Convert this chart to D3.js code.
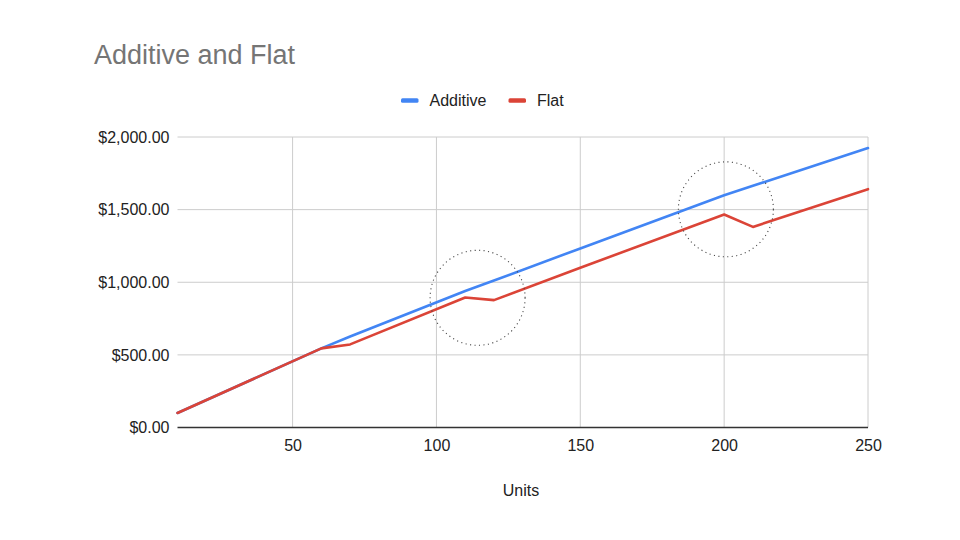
<!DOCTYPE html>
<html lang="en">
<head>
    <meta charset="UTF-8">
    <title>Additive and Flat</title>
    <style>
        body { margin: 0; background: #fff; }
        svg { font-family: Arial, "Liberation Sans", sans-serif; }
        .grid line { stroke: #cccccc; stroke-width: 1px; }
        .label { fill: #222; font-size: 16px; }
        .line { fill: none; stroke-width: 2.6px; stroke-linejoin: round; stroke-linecap: round; }
        .note { fill: none; stroke: #444; stroke-width: 1.1px; stroke-dasharray: 1.1 3.4; }
    </style>
    <script src="https://d3js.org/d3.v7.min.js"></script>
</head>
<body>
    <div id="chart"></div>

    <script>
        // values (vertices of the two lines)
        const units = [10, 60, 70, 110, 120, 150, 200, 210, 250];
        const additive = [100, 545, 627, 940, 1012, 1233, 1599, 1664, 1924];
        const flat = [100, 545, 572, 895, 877, 1100, 1466, 1381, 1641];

        const seriesNames = ["Additive", "Flat"];
        const seriesColors = ["#4285f4", "#db4437"];

        const xTicks = [50, 100, 150, 200, 250];
        const yTicks = [0, 500, 1000, 1500, 2000];

        // circled spots: [units, value]
        const notes = [[114.3, 893], [200.6, 1502]];

        const width = 960, height = 540;
        const margin = { top: 137, right: 92, bottom: 112.5, left: 177.5 };

        const svg = d3.select("#chart").append("svg")
            .attr("width", width)
            .attr("height", height);

        const x = d3.scaleLinear()
            .domain([10, 250])
            .range([margin.left, width - margin.right]);

        const y = d3.scaleLinear()
            .domain([0, 2000])
            .range([height - margin.bottom, margin.top]);

        // title
        svg.append("text")
            .attr("x", 94)
            .attr("y", 64)
            .style("font-size", "27px")
            .style("fill", "#757575")
            .text("Additive and Flat");

        // gridlines
        const grid = svg.append("g").attr("class", "grid");
        grid.selectAll(".h")
            .data(yTicks.filter(d => d > 0))
            .enter().append("line")
            .attr("x1", x.range()[0]).attr("x2", x.range()[1])
            .attr("y1", d => y(d)).attr("y2", d => y(d));
        grid.selectAll(".v")
            .data(xTicks)
            .enter().append("line")
            .attr("x1", d => x(d)).attr("x2", d => x(d))
            .attr("y1", y.range()[0]).attr("y2", y.range()[1]);

        // y axis labels
        const money = d3.format("$,.2f");
        svg.append("g")
            .attr("transform", `translate(${margin.left - 8},0)`)
            .call(d3.axisLeft(y).tickValues(yTicks).tickSize(0).tickPadding(0).tickFormat(money))
            .call(g => g.select(".domain").remove())
            .call(g => g.selectAll("text").attr("class", "label").attr("fill", null).style("font-size", "16px"));

        // x axis labels
        svg.append("g")
            .attr("transform", `translate(0,${y(0) + 12})`)
            .call(d3.axisBottom(x).tickValues(xTicks).tickSize(0).tickPadding(0))
            .call(g => g.select(".domain").remove())
            .call(g => g.selectAll("text").attr("class", "label").attr("fill", null).style("font-size", "16px"));

        svg.append("text")
            .attr("class", "label")
            .attr("x", 521)
            .attr("y", 496)
            .attr("text-anchor", "middle")
            .text("Units");

        // lines
        const lineGen = d3.line()
            .x((d, i) => x(units[i]))
            .y(d => y(d));

        [additive, flat].forEach((vals, i) => {
            svg.append("path")
                .datum(vals)
                .attr("class", "line")
                .attr("stroke", seriesColors[i])
                .attr("d", lineGen);
        });

        // baseline
        svg.append("line")
            .attr("x1", x.range()[0]).attr("x2", x.range()[1])
            .attr("y1", y(0)).attr("y2", y(0))
            .style("stroke", "#333")
            .style("stroke-width", "1.6px");

        // dotted circles
        svg.selectAll(".note")
            .data(notes)
            .enter().append("circle")
            .attr("class", "note")
            .attr("cx", d => x(d[0]))
            .attr("cy", d => y(d[1]))
            .attr("r", 47.5);

        // legend
        const legend = svg.append("g").attr("transform", "translate(401,100.5)");
        const legendX = [0, 107.5];
        seriesNames.forEach((name, i) => {
            const item = legend.append("g").attr("transform", `translate(${legendX[i]},0)`);
            item.append("rect")
                .attr("x", 0).attr("y", -2.3)
                .attr("width", 17.5).attr("height", 4.6)
                .attr("rx", 1.5)
                .attr("fill", seriesColors[i]);
            item.append("text")
                .attr("class", "label")
                .attr("x", 28.5)
                .attr("y", 5.7)
                .text(name);
        });
    </script>
</body>
</html>
